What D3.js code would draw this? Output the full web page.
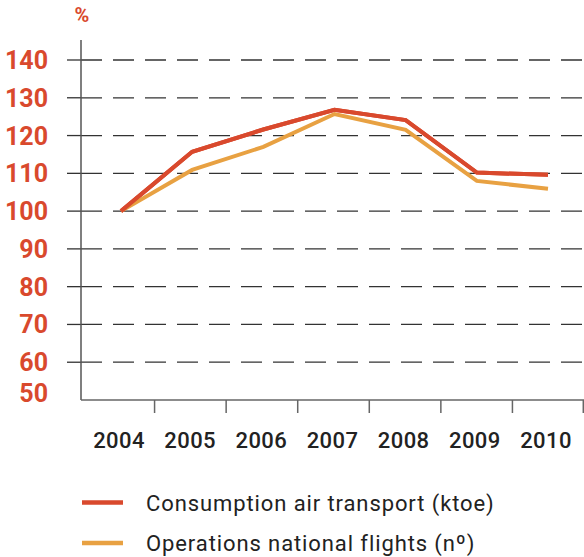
<!DOCTYPE html>
<html><head><meta charset="utf-8">
<script src="https://cdn.jsdelivr.net/npm/d3@7"></script>
<style>
html,body{margin:0;padding:0;background:#fff;}
svg{display:block;}
text{font-family:Roboto,"Open Sans",sans-serif;}
</style></head>
<body><svg id="c" width="584" height="557"></svg>
<script>
const years = ["2004","2005","2006","2007","2008","2009","2010"];
const consumption = [100, 115.7, 121.6, 126.8, 124.1, 110.2, 109.6];
const operations = [100, 110.9, 117.0, 125.7, 121.5, 108.0, 105.9];
const yTicks = [50,60,70,80,90,100,110,120,130,140];
const seriesNames = ["Consumption air transport (ktoe)", "Operations national flights (nº)"];
const seriesColors = ["#d9492d", "#e8a142"];

const svg = d3.select("#c");
const axisX = 81, right = 584, bottom = 400;
const y = d3.scaleLinear().domain([50,140]).range([bottom, 60]);
const xBand = d3.scaleBand().domain(years).range([83, 584]).padding(0);
const xPt = d3.scalePoint().domain(years).range([121, 548]);

// gridlines
const grid = svg.append("g");
yTicks.filter(v => v > 50).forEach(v => {
  grid.append("line").attr("x1", 67).attr("x2", axisX).attr("y1", y(v)).attr("y2", y(v))
    .attr("stroke", "#333").attr("stroke-width", 1.3);
  grid.append("line").attr("x1", axisX).attr("x2", right).attr("y1", y(v)).attr("y2", y(v))
    .attr("stroke", "#333").attr("stroke-width", 1.3).attr("stroke-dasharray", "21,11");
});

// y axis
svg.append("line").attr("x1", axisX).attr("x2", axisX).attr("y1", 40).attr("y2", bottom)
  .attr("stroke", "#555").attr("stroke-width", 1.5);
// x axis
svg.append("line").attr("x1", axisX).attr("x2", right).attr("y1", bottom).attr("y2", bottom)
  .attr("stroke", "#666").attr("stroke-width", 1.5);
years.forEach(yr => {
  const tx = Math.min(xBand(yr) + xBand.bandwidth(), 583.3);
  svg.append("line").attr("x1", tx).attr("x2", tx).attr("y1", bottom).attr("y2", 413)
    .attr("stroke", "#666").attr("stroke-width", 1.5);
});

// y labels
svg.append("g").selectAll("text").data(yTicks).join("text")
  .attr("x", 48).attr("y", d => y(d) + (d === 50 ? -7.5 : 0))
  .attr("dy", "0.36em").attr("text-anchor", "end")
  .attr("font-size", 25).attr("font-weight", 700).attr("fill", "#d9492d")
  .text(d => d);

svg.append("text").attr("x", 82).attr("y", 22).attr("text-anchor", "middle")
  .attr("font-size", 20).attr("font-weight", 700).attr("fill", "#d9492d").text("%");

// x labels
svg.append("g").selectAll("text").data(years).join("text")
  .attr("x", d => xPt(d) - 2).attr("y", 448).attr("text-anchor", "middle")
  .attr("font-size", 22).attr("font-weight", 500).attr("fill", "#222")
  .attr("letter-spacing", 0.4)
  .text(d => d);

// lines
const line = d3.line().x((d,i) => xPt(years[i])).y(d => y(d));
[consumption, operations].forEach((s, i) => {
  svg.append("path").datum(s).attr("d", line).attr("fill", "none")
    .attr("stroke", seriesColors[i]).attr("stroke-width", 4).attr("stroke-linejoin", "miter");
});
// redraw red on top
svg.append("path").datum(consumption).attr("d", line).attr("fill", "none")
  .attr("stroke", seriesColors[0]).attr("stroke-width", 4);

// legend
seriesNames.forEach((n, i) => {
  const ly = 502.5 + i * 40.5;
  svg.append("line").attr("x1", 82).attr("x2", 123).attr("y1", ly).attr("y2", ly)
    .attr("stroke", seriesColors[i]).attr("stroke-width", 4.5);
  svg.append("text").attr("x", 146).attr("y", ly + 8).attr("font-size", 22)
    .attr("font-weight", 400).attr("fill", "#222").attr("letter-spacing", 0.9).text(n);
});
</script></body></html>
